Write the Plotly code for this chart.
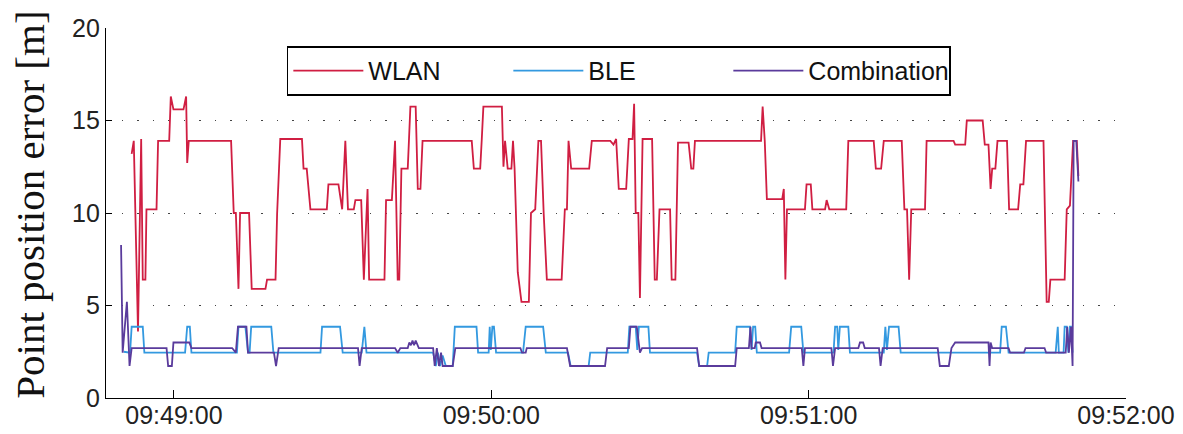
import pandas as pd
import plotly.graph_objects as go

# times are seconds after 09:48:00
base = pd.Timestamp("2020-01-01 09:48:00")

t_wlan = [52.0, 52.4, 53.2, 53.8, 54.1, 54.6, 54.8, 56.7, 57.0, 59.1, 59.4, 59.9, 61.8, 62.3, 62.5, 62.8,
          70.8, 71.3, 71.7, 72.2, 72.5, 74.2, 74.7, 77.3, 77.6, 79.2, 79.5, 80.1, 84.2, 84.5, 85.1, 85.8,
          88.9, 89.2, 91.1, 91.8, 92.4, 92.9, 94.0, 94.3, 95.4, 95.9, 96.6, 96.9, 99.8, 100.1, 101.2, 101.8,
          102.3, 102.6, 103.0, 104.2, 104.7, 105.7, 106.1, 106.6, 107.0, 116.3, 116.7, 117.9, 118.2, 118.5,
          122.0, 122.3, 122.6, 123.1, 123.8, 124.1, 124.4, 125.0, 125.7, 127.1, 127.5, 128.3, 128.9, 129.4,
          129.9, 130.5, 133.3, 133.9, 134.3, 134.6, 135.1, 138.5, 139.0, 142.5, 143.1, 143.6, 144.1, 145.5,
          146.0, 146.7, 147.0, 147.3, 147.8, 148.1, 148.6, 150.4, 150.9, 151.3, 151.8, 153.8, 154.1, 154.8,
          155.3, 157.3, 157.8, 158.2, 158.5, 171.0, 171.3, 171.7, 172.1, 175.0, 175.3, 175.6, 175.9, 179.3,
          179.6, 180.4, 180.7, 183.1, 183.4, 183.9, 187.1, 187.5, 192.3, 192.7, 193.7, 194.2, 197.6, 198.1,
          198.6, 199.0, 199.4, 202.0, 202.3, 207.4, 207.7, 209.6, 209.9, 212.9, 213.3, 214.0, 214.4, 214.7,
          215.3, 215.7, 217.5, 217.9, 219.6, 220.0, 220.6, 221.1, 224.4, 225.0, 225.4, 225.7, 228.4, 228.8,
          229.4, 230.0, 230.7, 231.0]
v_wlan = [13.2, 13.9, 3.6, 14.0, 6.4, 6.4, 10.2, 10.2, 13.9, 13.9, 16.3, 15.6, 15.6, 16.3, 12.7, 13.9,
          13.9, 10.0, 10.0, 5.9, 10.0, 10.0, 5.9, 5.9, 6.4, 6.4, 9.95, 14.0, 14.0, 12.4, 12.4, 10.2,
          10.2, 11.55, 11.55, 10.2, 13.9, 10.2, 10.2, 10.7, 10.7, 6.4, 11.3, 6.4, 6.4, 10.7, 10.7, 13.9,
          6.4, 6.4, 12.4, 12.4, 15.75, 15.75, 11.3, 11.3, 13.9, 13.9, 12.4, 12.4, 14.0, 15.75,
          15.75, 12.5, 13.9, 12.4, 12.4, 13.9, 12.4, 6.8, 5.2, 5.2, 10.0, 10.2, 13.9, 13.9,
          10.0, 6.4, 6.4, 10.2, 10.2, 13.9, 12.4, 12.4, 13.9, 13.9, 13.7, 14.0, 11.3, 11.3,
          14.0, 14.0, 15.9, 10.0, 10.0, 5.4, 14.0, 14.0, 6.4, 6.4, 10.2, 10.2, 6.4, 6.4,
          13.8, 13.8, 12.4, 12.4, 13.9, 13.9, 15.75, 13.9, 10.75, 10.75, 11.3, 6.4, 10.2, 10.2,
          11.55, 11.55, 10.2, 10.2, 10.7, 10.2, 10.2, 13.9, 13.9, 12.4, 12.4, 13.9, 13.9, 10.2,
          10.2, 6.4, 10.2, 10.2, 13.9, 13.9, 13.7, 13.7, 15.0, 15.0, 13.7, 13.7, 11.3, 12.4,
          12.4, 13.9, 13.9, 10.2, 10.2, 11.55, 11.55, 13.9, 13.9, 5.2, 5.2, 6.4, 6.4, 10.2,
          10.4, 13.9, 13.9, 12.0]

t_ble = [50.5, 51.7, 52.0, 54.1, 54.4, 62.1, 62.5, 63.0, 63.3, 71.9, 72.2, 73.5, 74.0, 74.3, 74.6, 78.4,
         78.8, 87.7, 88.0, 91.4, 91.9, 95.5, 96.0, 96.4, 109.0, 109.5, 109.9, 110.3, 110.8, 111.4, 112.7,
         113.1, 117.2, 117.5, 119.5, 119.7, 119.9, 120.2, 120.5, 120.9, 126.0, 126.5, 129.8, 130.3, 134.5,
         135.0, 138.4, 138.7, 145.8, 146.1, 147.3, 147.6, 147.9, 149.7, 150.0, 158.9, 159.3, 160.8, 161.1,
         166.1, 166.4, 168.9, 169.2, 169.5, 169.9, 170.2, 176.3, 176.7, 178.6, 179.0, 184.7, 185.0, 185.4,
         185.6, 185.9, 187.5, 187.8, 194.2, 194.5, 194.8, 195.2, 197.0, 197.4, 216.2, 216.5, 217.3, 217.8,
         226.7, 227.1, 227.3, 228.2, 228.4, 228.8, 229.1, 229.4, 229.6, 229.9]
v_ble = [2.5, 2.45, 3.85, 3.85, 2.45, 2.45, 3.85, 3.85, 2.45, 2.45, 3.85, 3.85, 2.45, 2.45, 3.85, 3.85,
         2.45, 2.45, 3.85, 3.85, 2.45, 2.45, 3.85, 2.45, 2.45, 1.73, 2.45, 1.73, 2.3, 1.73, 1.73,
         3.85, 3.85, 2.45, 2.45, 3.85, 2.6, 3.85, 3.85, 2.45, 2.45, 3.85, 3.85, 2.45, 2.45,
         1.73, 1.73, 2.45, 2.45, 3.85, 3.85, 2.6, 3.85, 3.85, 2.45, 2.45, 1.73, 1.73, 2.45,
         2.45, 3.85, 3.85, 2.6, 3.85, 3.85, 2.45, 2.45, 3.85, 3.85, 2.45, 2.45, 3.85, 3.85,
         2.6, 3.85, 3.85, 2.45, 2.45, 3.85, 2.6, 3.85, 3.85, 2.45, 2.45, 3.85, 3.85, 2.45,
         2.45, 3.85, 2.45, 2.45, 3.85, 3.85, 2.45, 3.85, 3.85, 2.45]

t_comb = [50.0, 50.3, 51.1, 51.6, 52.0, 58.6, 58.9, 59.6, 59.9, 62.9, 63.3, 71.0, 71.7, 72.1, 73.7, 74.0,
          78.9, 79.3, 79.8, 94.8, 95.1, 95.5, 101.8, 102.3, 102.8, 104.2, 104.5, 104.8, 105.1, 105.4, 105.7,
          106.3, 109.0, 109.3, 109.7, 110.1, 110.5, 110.8, 112.7, 113.2, 125.5, 125.8, 126.5, 126.7, 134.3,
          134.9, 141.5, 141.9, 146.0, 146.3, 147.5, 148.1, 148.5, 158.9, 159.3, 166.1, 166.4, 168.7, 169.0,
          169.2, 169.8, 170.0, 170.8, 171.1, 178.7, 179.0, 179.3, 184.3, 184.6, 185.0, 189.4, 189.7, 190.3,
          190.6, 193.3, 193.6, 194.0, 204.4, 204.8, 206.5, 207.0, 207.7, 214.0, 214.2, 214.4, 214.7, 217.8,
          218.1, 220.7, 221.0, 224.6, 224.9, 228.6, 228.9, 229.2, 229.6, 229.9, 230.1, 230.6, 231.0]
v_comb = [8.27, 2.45, 5.2, 1.73, 2.7, 2.7, 1.73, 1.73, 3.0, 3.0, 2.7, 2.7, 2.45, 3.85, 3.85, 2.45,
          2.45, 1.73, 2.7, 2.7, 1.73, 2.7, 2.7, 2.45, 2.7, 2.7, 3.0, 2.85, 3.1, 2.85, 3.1,
          2.7, 2.7, 1.73, 2.7, 1.73, 2.45, 1.73, 1.73, 2.7, 2.7, 2.45, 2.45, 2.7, 2.7,
          1.73, 1.73, 2.7, 2.7, 3.85, 3.85, 2.45, 2.7, 2.7, 1.73, 1.73, 2.7, 2.7, 3.85,
          2.7, 2.7, 3.0, 3.0, 2.7, 2.7, 1.73, 2.7, 2.7, 1.73, 2.7, 2.7, 3.0, 3.0,
          2.7, 2.7, 1.73, 2.7, 2.7, 1.73, 1.73, 2.7, 3.0, 3.0, 1.73, 3.0, 2.7, 2.7,
          2.45, 2.45, 2.7, 2.7, 2.45, 2.45, 3.85, 2.45, 3.85, 1.73, 13.9, 13.9, 11.7]

series_names = ["WLAN", "BLE", "Combination"]
series_colors = ["#d01e42", "#3399e0", "#5a3b9c"]

x_tick_seconds = [60, 120, 180, 240]
x_tick_labels = ["09:49:00", "09:50:00", "09:51:00", "09:52:00"]
y_ticks = [0, 5, 10, 15, 20]
y_title = "Point position error [m]"

assert len(t_wlan) == len(v_wlan) and len(t_ble) == len(v_ble) and len(t_comb) == len(v_comb)


def to_time(secs):
    return [base + pd.Timedelta(seconds=s) for s in secs]


fig = go.Figure()
for name, color, t, v in zip(series_names, series_colors,
                             [t_wlan, t_ble, t_comb], [v_wlan, v_ble, v_comb]):
    fig.add_trace(go.Scatter(x=to_time(t), y=v, mode="lines", name=name,
                             line=dict(color=color, width=1.8)))

fig.update_layout(
    width=1183, height=434,
    margin=dict(l=106, r=57, t=28, b=36),
    plot_bgcolor="white", paper_bgcolor="white",
    font=dict(family="Liberation Sans, Arial, sans-serif", color="#222"),
    legend=dict(orientation="h", x=0.177, xanchor="left", y=0.951, yanchor="top",
                bordercolor="black", borderwidth=1.8, bgcolor="white",
                font=dict(size=25, color="#111"), itemwidth=70,
                entrywidth=135, entrywidthmode="pixels"),
    annotations=[dict(text=y_title, textangle=-90, xref="paper", yref="paper",
                      x=-0.074, y=0.521, xanchor="center", yanchor="middle", showarrow=False,
                      font=dict(family="Liberation Serif, Times New Roman, serif", size=41,
                                color="#111"))],
)
fig.update_xaxes(
    type="date",
    range=[base + pd.Timedelta(seconds=47.15), base + pd.Timedelta(seconds=240)],
    tickvals=to_time(x_tick_seconds), ticktext=x_tick_labels,
    ticks="inside", ticklen=8, tickcolor="black", tickwidth=1.3,
    showline=True, linecolor="black", linewidth=1.3,
    showgrid=False, zeroline=False, automargin=False,
    tickfont=dict(size=25, color="#222"), ticklabelstandoff=-5,
)
fig.update_yaxes(
    range=[0, 20], tickvals=y_ticks,
    ticks="inside", ticklen=6, tickcolor="black", tickwidth=1.3,
    showline=True, linecolor="black", linewidth=1.3,
    showgrid=True, gridcolor="#444", gridwidth=1.3, griddash="1.5px,14px",
    zeroline=False, automargin=False,
    tickfont=dict(size=25, color="#222"),
)

fig.write_html("out.html")
